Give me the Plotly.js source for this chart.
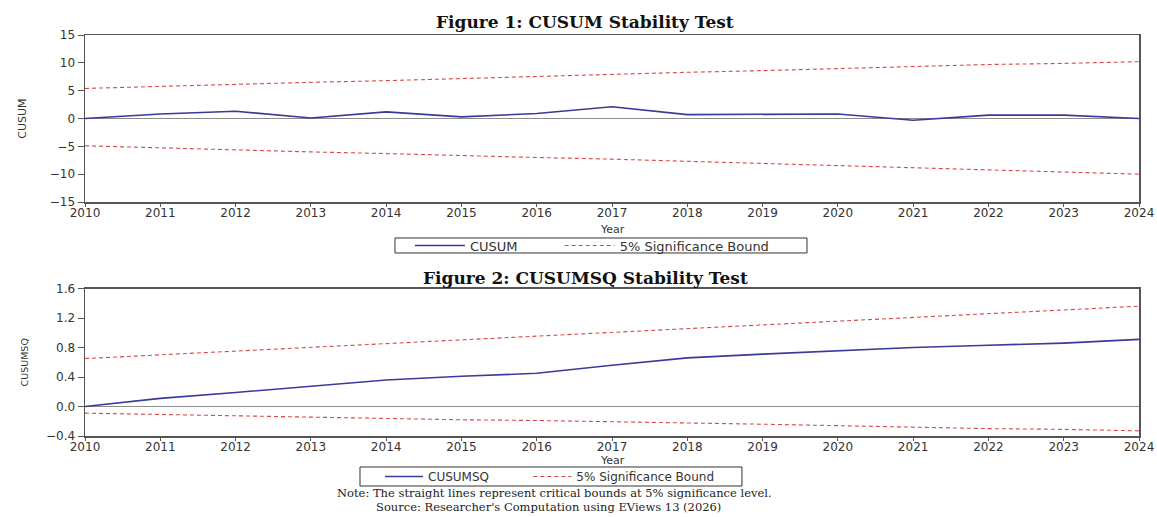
<!DOCTYPE html>
<html>
<head>
<meta charset="utf-8">
<script src="https://cdn.plot.ly/plotly-3.0.1.min.js"></script>
<style>html,body{margin:0;padding:0;background:#fff;}#chart{width:1157px;height:517px;}</style>
</head>
<body>
<div id="chart"></div>
<script>
// ---- data ----
const years = [2010, 2011, 2012, 2013, 2014, 2015, 2016, 2017, 2018, 2019, 2020, 2021, 2022, 2023, 2024];
const cusum = [0.0, 0.8, 1.3, 0.1, 1.2, 0.3, 0.9, 2.1, 0.7, 0.7, 0.8, -0.3, 0.6, 0.6, 0.0];
const cusumUpper = [5.4, 5.8, 6.1, 6.5, 6.8, 7.2, 7.6, 7.9, 8.3, 8.6, 9.0, 9.3, 9.7, 9.9, 10.2];
const cusumLower = [-4.9, -5.3, -5.6, -6.0, -6.3, -6.7, -7.0, -7.3, -7.7, -8.1, -8.4, -8.8, -9.2, -9.6, -10.0];
const cusumsq = [0.0, 0.11, 0.19, 0.28, 0.36, 0.41, 0.45, 0.56, 0.66, 0.71, 0.76, 0.80, 0.83, 0.86, 0.91];
const sqUpper = [0.65, 0.70, 0.75, 0.80, 0.85, 0.90, 0.95, 1.00, 1.06, 1.11, 1.16, 1.21, 1.26, 1.31, 1.36];
const sqLower = [-0.09, -0.11, -0.12, -0.14, -0.16, -0.18, -0.19, -0.21, -0.23, -0.24, -0.26, -0.28, -0.30, -0.31, -0.33];
const cusumTicks = [-15, -10, -5, 0, 5, 10, 15];
const sqTicks = [-0.4, 0.0, 0.4, 0.8, 1.2, 1.6];
const title1 = 'Figure 1: CUSUM Stability Test';
const title2 = 'Figure 2: CUSUMSQ Stability Test';
const note1 = 'Note: The straight lines represent critical bounds at 5% significance level.';
const note2 = "Source: Researcher's Computation using EViews 13 (2026)";
const xTitle = 'Year';
const boundName = '5% Significance Bound';

// ---- styling ----
const blue = '#3a3a9a';
const red = '#d84848';
const sans = 'DejaVu Sans, sans-serif';
const serif = 'DejaVu Serif, serif';
const dash = '4px,3px';
const pad = n => '\u00a0'.repeat(n);

const traces = [
  {x: years, y: cusum, type: 'scatter', mode: 'lines', name: 'CUSUM' + pad(9), xaxis: 'x', yaxis: 'y',
   line: {color: blue, width: 1.6}, legend: 'legend'},
  {x: years, y: cusumUpper, type: 'scatter', mode: 'lines', name: boundName, xaxis: 'x', yaxis: 'y',
   line: {color: red, width: 1.1, dash: dash}, legend: 'legend', legendgroup: 'b1'},
  {x: years, y: cusumLower, type: 'scatter', mode: 'lines', name: boundName, xaxis: 'x', yaxis: 'y',
   line: {color: red, width: 1.1, dash: dash}, legend: 'legend', legendgroup: 'b1', showlegend: false},
  {x: years, y: cusumsq, type: 'scatter', mode: 'lines', name: 'CUSUMSQ' + pad(9), xaxis: 'x2', yaxis: 'y2',
   line: {color: blue, width: 1.6}, legend: 'legend2'},
  {x: years, y: sqUpper, type: 'scatter', mode: 'lines', name: boundName, xaxis: 'x2', yaxis: 'y2',
   line: {color: red, width: 1.1, dash: dash}, legend: 'legend2', legendgroup: 'b2'},
  {x: years, y: sqLower, type: 'scatter', mode: 'lines', name: boundName, xaxis: 'x2', yaxis: 'y2',
   line: {color: red, width: 1.1, dash: dash}, legend: 'legend2', legendgroup: 'b2', showlegend: false}
];

function xAxis(anchor, size) {
  return {
    anchor: anchor, domain: [0, 1], range: [2010, 2024], tickvals: years, ticktext: years.map(String),
    showgrid: false, zeroline: false, showline: true, mirror: true, linecolor: '#555', linewidth: 1.5,
    ticks: 'outside', ticklen: 3, tickcolor: '#555', ticklabelstandoff: -4, ticklabeloverflow: 'allow',
    tickfont: {family: sans, size: size, color: '#333'}
  };
}
function yAxis(anchor, domain, range, tickvals, fmt, title, tsize, titleSize, standoff) {
  return {
    anchor: anchor, domain: domain, range: range, tickvals: tickvals, tickformat: fmt,
    showgrid: false, zeroline: true, zerolinecolor: '#8c8c8c', zerolinewidth: 1.5,
    showline: true, mirror: true, linecolor: '#555', linewidth: 1.5,
    ticks: 'outside', ticklen: 6, tickcolor: '#555', tickfont: {family: sans, size: tsize, color: '#333'},
    title: {text: title, font: {family: sans, size: titleSize, color: '#333'}, standoff: standoff}
  };
}

const layout = {
  width: 1157, height: 517,
  margin: {l: 85, r: 18, t: 35, b: 81},
  paper_bgcolor: '#fff', plot_bgcolor: '#fff',
  showlegend: true,
  xaxis: xAxis('y', 12),
  yaxis: yAxis('x', [0.5835, 1], [-15, 15], cusumTicks, 'd', 'CUSUM', 12, 11, 21),
  xaxis2: xAxis('y2', 12),
  yaxis2: yAxis('x2', [0, 0.3678], [-0.4, 1.6], sqTicks, '.1f', 'CUSUMSQ', 12, 9.5, 15),
  legend: {orientation: 'h', x: 0.3083, xanchor: 'left', y: 0.475, yanchor: 'middle',
           bgcolor: 'rgba(0,0,0,0)', borderwidth: 0, itemwidth: 50,
           font: {family: sans, size: 13, color: '#333'}},
  legend2: {orientation: 'h', x: 0.2799, xanchor: 'left', y: -0.101, yanchor: 'middle',
           bgcolor: 'rgba(0,0,0,0)', borderwidth: 0, itemwidth: 38,
           font: {family: sans, size: 12, color: '#333'}},
  shapes: [
    {type: 'rect', xref: 'paper', yref: 'paper', x0: 0.2941, x1: 0.685, y0: 0.4564, y1: 0.4938,
     line: {color: '#333', width: 1}, fillcolor: 'rgba(0,0,0,0)'},
    {type: 'rect', xref: 'paper', yref: 'paper', x0: 0.2609, x1: 0.6233, y0: -0.1247, y1: -0.0773,
     line: {color: '#333', width: 1}, fillcolor: 'rgba(0,0,0,0)'}
  ],
  annotations: [
    {text: '<b>' + title1 + '</b>', xref: 'paper', yref: 'paper', x: 0.4744, y: 1.0324,
     xanchor: 'center', yanchor: 'middle', showarrow: false, font: {family: serif, size: 17, color: '#111'}},
    {text: '<b>' + title2 + '</b>', xref: 'paper', yref: 'paper', x: 0.4744, y: 0.394,
     xanchor: 'center', yanchor: 'middle', showarrow: false, font: {family: serif, size: 17, color: '#111'}},
    {text: xTitle, xref: 'paper', yref: 'paper', x: 0.5, y: 0.5162,
     xanchor: 'center', yanchor: 'middle', showarrow: false, font: {family: sans, size: 11, color: '#333'}},
    {text: xTitle, xref: 'paper', yref: 'paper', x: 0.5, y: -0.0599,
     xanchor: 'center', yanchor: 'middle', showarrow: false, font: {family: sans, size: 11, color: '#333'}},
    {text: note1, xref: 'paper', yref: 'paper', x: 0.4459, y: -0.1421,
     xanchor: 'center', yanchor: 'middle', showarrow: false, font: {family: serif, size: 11.5, color: '#222'}},
    {text: note2, xref: 'paper', yref: 'paper', x: 0.4393, y: -0.1770,
     xanchor: 'center', yanchor: 'middle', showarrow: false, font: {family: serif, size: 11.5, color: '#222'}}
  ]
};

Plotly.newPlot('chart', traces, layout, {displayModeBar: false, staticPlot: true});
</script>
</body>
</html>
